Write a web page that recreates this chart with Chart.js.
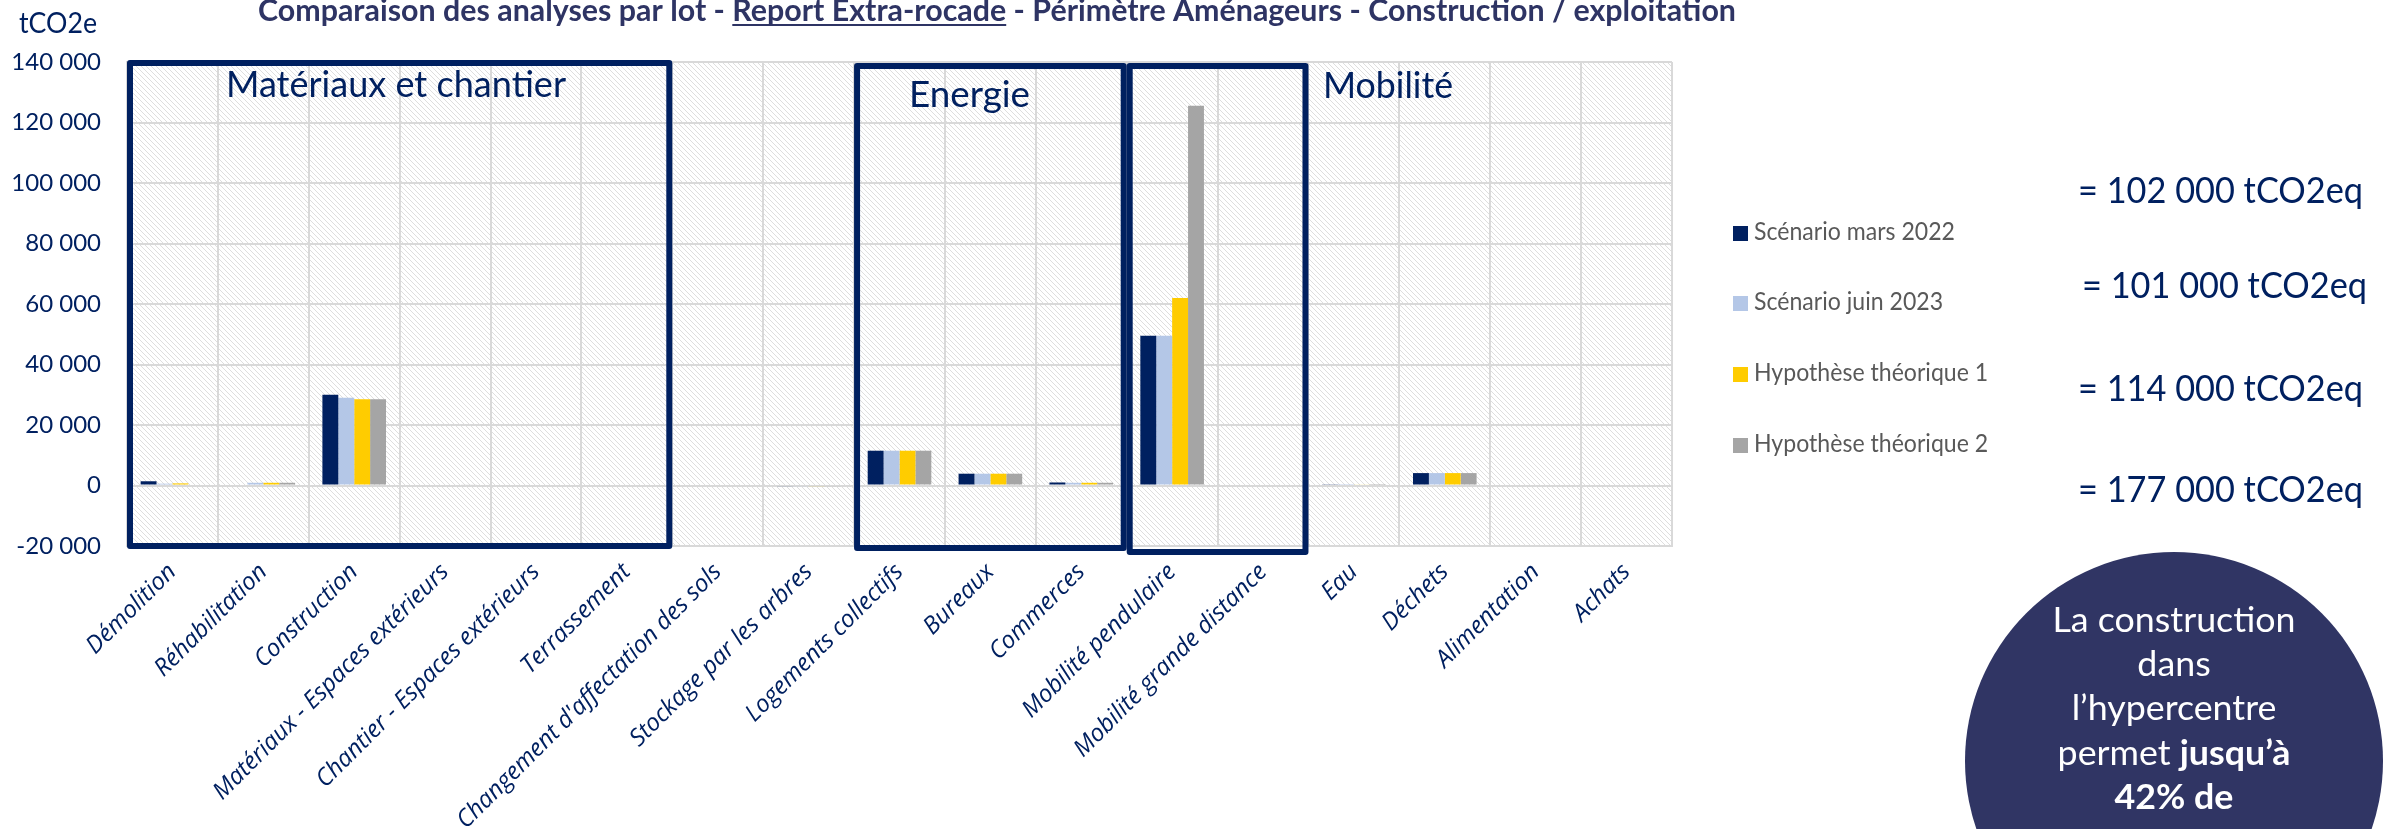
<!DOCTYPE html>
<html lang="fr">
<head>
<meta charset="utf-8">
<title>Comparaison des analyses par lot</title>
<script src="https://cdn.jsdelivr.net/npm/chart.js@4.4.1/dist/chart.umd.min.js"></script>
<style>
  html, body { margin: 0; padding: 0; background: #ffffff; }
  #wrap { position: relative; width: 2399px; height: 829px; overflow: hidden; }
</style>
</head>
<body>
<div id="wrap"><canvas id="lotChart"></canvas></div>
<script>
// lots (axe X)
const categories = [
    'Démolition', 'Réhabilitation', 'Construction', 'Matériaux - Espaces extérieurs',
    'Chantier - Espaces extérieurs', 'Terrassement', "Changement d'affectation des sols",
    'Stockage par les arbres', 'Logements collectifs', 'Bureaux', 'Commerces',
    'Mobilité pendulaire', 'Mobilité grande distance', 'Eau', 'Déchets', 'Alimentation', 'Achats'
];

const seriesNames = ['Scénario mars 2022', 'Scénario juin 2023', 'Hypothèse théorique 1', 'Hypothèse théorique 2'];
const seriesColors = ['#002060', '#b4c7e7', '#ffcc00', '#a5a5a5'];

// tCO2e par lot
const scenarioMars2022 = [1400, 0, 30000, 0, 0, 0, 0, -300, 11500, 3900, 1000, 49500, 0, 400, 4100, 0, 0];
const scenarioJuin2023 = [600, 900, 29000, 0, 0, 0, 0, -300, 11500, 3900, 900, 49500, 0, 200, 4100, 0, 0];
const hypothese1 = [700, 900, 28500, 0, 0, 0, 0, -300, 11500, 3900, 900, 62000, 0, 300, 4100, 0, 0];
const hypothese2 = [0, 900, 28500, 300, 0, 0, 0, -300, 11500, 3900, 900, 125500, 0, 200, 4100, 0, 0];

const yMin = -20000;
const yMax = 140000;
const yStep = 20000;

const totals = ['= 102 000 tCO2eq', '= 101 000 tCO2eq', '= 114 000 tCO2eq', '= 177 000 tCO2eq'];

// regroupements encadrés (indices de lots)
const groups = [
    { label: 'Matériaux et chantier', from: 0, to: 5 },
    { label: 'Energie', from: 8, to: 10 },
    { label: 'Mobilité', from: 11, to: 12 }
];

const chartTitle = 'Comparaison des analyses par lot - Report Extra-rocade - Périmètre Aménageurs - Construction / exploitation';
const bubbleLines = [
    [['La construction', false]],
    [['dans', false]],
    [['l’hypercentre', false]],
    [['permet ', false], ['jusqu’à', true]],
    [['42% de', true]]
];

const NAVY = '#002060';
const FONT = "Lato, 'Open Sans', sans-serif";

const fmt = v => (v < 0 ? '-' : '') + String(Math.abs(v)).replace(/\B(?=(\d{3})+(?!\d))/g, ' ');

// texte étiré horizontalement pour tenir dans une largeur donnée
function fitText(ctx, text, x, y, width, align) {
    const w = ctx.measureText(text).width;
    ctx.save();
    ctx.translate(x, y);
    ctx.scale(width / w, 1);
    ctx.textAlign = align || 'left';
    ctx.fillText(text, 0, 0);
    ctx.restore();
}

const hatchPlugin = {
    id: 'hatch',
    beforeDraw(chart) {
        const { ctx, chartArea: a } = chart;
        const tile = document.createElement('canvas');
        tile.width = 5; tile.height = 5;
        const t = tile.getContext('2d');
        t.fillStyle = '#ffffff';
        t.fillRect(0, 0, 5, 5);
        t.strokeStyle = '#dedede';
        t.lineWidth = 1;
        t.beginPath(); t.moveTo(-1, -1); t.lineTo(6, 6); t.stroke();
        ctx.save();
        ctx.fillStyle = ctx.createPattern(tile, 'repeat');
        ctx.fillRect(a.left, a.top, a.right - a.left, a.bottom - a.top);
        ctx.restore();
    }
};

const overlayPlugin = {
    id: 'overlay',
    afterDatasetsDraw(chart) {
        const { ctx, chartArea: a } = chart;
        const x = chart.scales.x;
        const half = (x.getPixelForValue(1) - x.getPixelForValue(0)) / 2;

        ctx.save();
        ctx.strokeStyle = NAVY;
        ctx.lineWidth = 6;
        ctx.lineJoin = 'round';
        const tops = [a.top + 1, a.top + 4, a.top + 4];
        const bottoms = [a.bottom, a.bottom + 2, a.bottom + 6];
        groups.forEach((g, i) => {
            const l = x.getPixelForValue(g.from) - half + 3;
            const r = x.getPixelForValue(g.to) + half - 3;
            ctx.strokeRect(l, tops[i], r - l, bottoms[i] - tops[i]);
        });

        ctx.fillStyle = NAVY;
        ctx.font = '36px ' + FONT;
        fitText(ctx, groups[0].label, 226, 97, 340);
        fitText(ctx, groups[1].label, 909, 107, 121);
        fitText(ctx, groups[2].label, 1323, 98, 130);
        ctx.restore();
    },
    afterDraw(chart) {
        const { ctx } = chart;
        ctx.save();

        // titre
        ctx.fillStyle = '#2e3464';
        ctx.font = 'bold 30px ' + FONT;
        const fullW = ctx.measureText(chartTitle).width;
        const sx = 1478 / fullW;
        const pre = 'Comparaison des analyses par lot - ';
        const und = 'Report Extra-rocade';
        fitText(ctx, chartTitle, 258, 21, 1478);
        const u0 = 258 + ctx.measureText(pre).width * sx;
        const u1 = u0 + ctx.measureText(und).width * sx;
        ctx.fillRect(u0, 24, u1 - u0, 2);

        // unité
        ctx.fillStyle = NAVY;
        ctx.font = '29px ' + FONT;
        fitText(ctx, 'tCO2e', 19, 33, 78);

        // légende
        ctx.font = '25px ' + FONT;
        const ls = 201 / ctx.measureText(chart.data.datasets[0].label).width;
        const legendTops = [226, 296, 367, 438];
        chart.data.datasets.forEach((ds, i) => {
            ctx.fillStyle = ds.backgroundColor;
            ctx.fillRect(1733, legendTops[i], 15, 15);
            ctx.fillStyle = '#595959';
            const w = ctx.measureText(ds.label).width * ls;
            fitText(ctx, ds.label, 1754, legendTops[i] + 14, w);
        });

        // totaux
        ctx.fillStyle = NAVY;
        ctx.font = '36px ' + FONT;
        const totalX = [2078, 2082, 2078, 2078];
        const totalY = [203, 298, 401, 502];
        totals.forEach((t, i) => fitText(ctx, t, totalX[i], totalY[i], 285));

        // bulle
        ctx.fillStyle = '#303564';
        ctx.beginPath();
        ctx.arc(2174, 761, 209, 0, Math.PI * 2);
        ctx.fill();
        ctx.fillStyle = '#ffffff';
        ctx.font = '35px ' + FONT;
        const bs = 243 / ctx.measureText('La construction').width;
        const baseY = [632, 676, 720, 765, 809];
        bubbleLines.forEach((parts, i) => {
            let total = 0;
            parts.forEach(([txt, bold]) => {
                ctx.font = (bold ? 'bold ' : '') + '35px ' + FONT;
                total += ctx.measureText(txt).width * bs;
            });
            let cx = 2174 - total / 2;
            parts.forEach(([txt, bold]) => {
                ctx.font = (bold ? 'bold ' : '') + '35px ' + FONT;
                const w = ctx.measureText(txt).width * bs;
                fitText(ctx, txt, cx, baseY[i], w);
                cx += w;
            });
        });
        ctx.restore();
    }
};

const datasetValues = [scenarioMars2022, scenarioJuin2023, hypothese1, hypothese2];

new Chart(document.getElementById('lotChart'), {
    type: 'bar',
    data: {
        labels: categories,
        datasets: seriesNames.map((name, i) => ({
            label: name,
            data: datasetValues[i],
            backgroundColor: seriesColors[i],
            borderWidth: 0,
            categoryPercentage: 0.7,
            barPercentage: 1.0
        }))
    },
    options: {
        responsive: true,
        maintainAspectRatio: false,
        animation: false,
        layout: { padding: { top: 62, right: 727, bottom: 0, left: 0 } },
        plugins: {
            legend: { display: false },
            tooltip: { enabled: false }
        },
        scales: {
            x: {
                grid: { color: '#d9d9d9', lineWidth: 2, drawTicks: false, offset: true },
                border: { color: '#d9d9d9', width: 2 },
                ticks: {
                    autoSkip: false,
                    minRotation: 45,
                    maxRotation: 45,
                    padding: 12,
                    color: NAVY,
                    font: { family: "'Open Sans', Lato, sans-serif", size: 24, style: 'italic' }
                },
                afterFit(scale) { scale.height = 283; }
            },
            y: {
                min: yMin,
                max: yMax,
                grid: { color: '#d9d9d9', lineWidth: 2, drawTicks: false },
                border: { color: '#d9d9d9', width: 2 },
                ticks: {
                    stepSize: yStep,
                    padding: 26,
                    color: NAVY,
                    font: { family: FONT, size: 24 },
                    callback: v => fmt(v)
                },
                afterFit(scale) { scale.width = 127; }
            }
        }
    },
    plugins: [hatchPlugin, overlayPlugin]
});
</script>
</body>
</html>
